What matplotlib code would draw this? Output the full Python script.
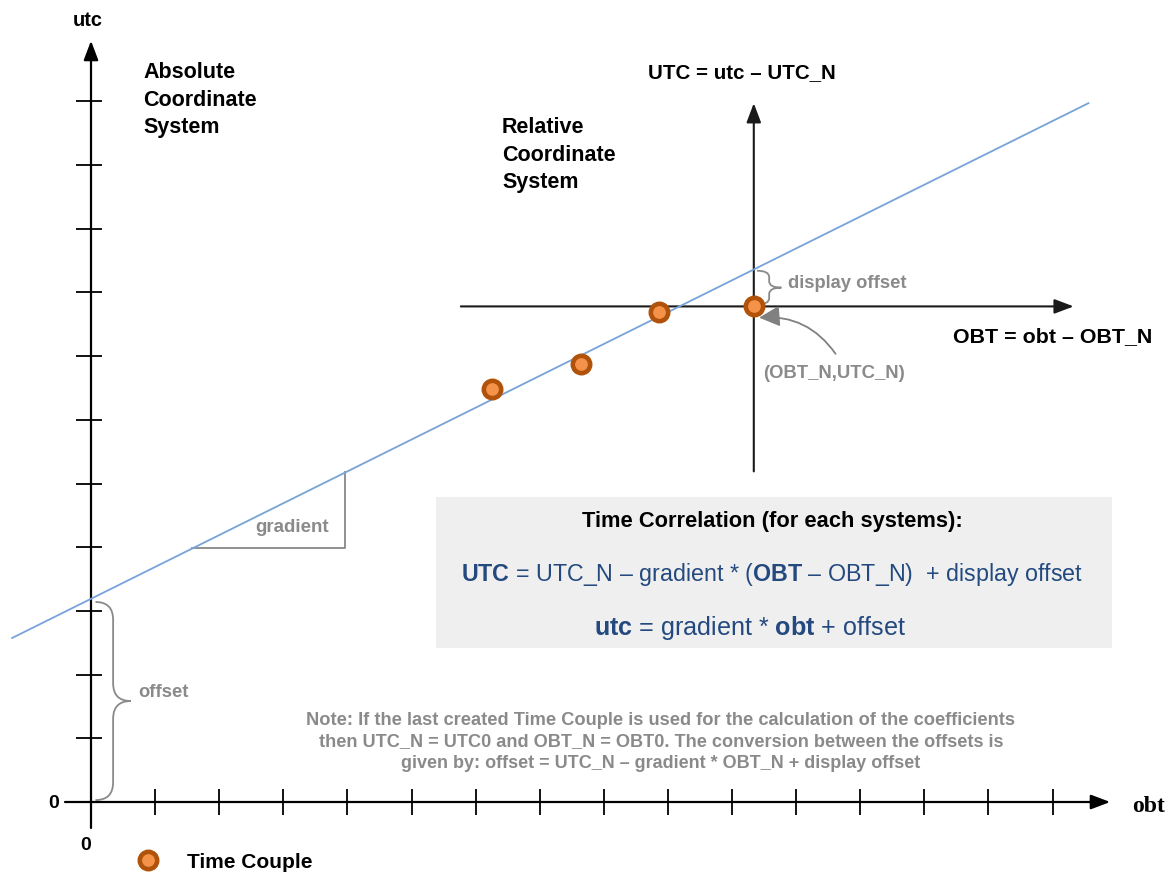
import matplotlib
matplotlib.use('Agg')
import matplotlib.pyplot as plt
import numpy as np
from matplotlib import transforms, font_manager
from matplotlib.patches import Rectangle, PathPatch, FancyArrowPatch
from matplotlib.path import Path

# ---------------- data ----------------
obt_ticks = np.arange(1, 16)          # tick marks on obt axis
utc_ticks = np.arange(1, 12)          # tick marks on utc axis
gradient = 0.5
offset = 3.19
line_obt = [-1.23, 15.56]             # extent of correlation line
couple_obt = [6.25, 7.64, 8.86, 10.34]
couple_utc = [6.48, 6.875, 7.69, 7.78]
obt_n, utc_n = couple_obt[-1], couple_utc[-1]
grad_obt = [1.58, 3.97]               # gradient triangle

def corr(o):
    return offset + gradient * np.asarray(o, dtype=float)

names = {f.name for f in font_manager.fontManager.ttflist}
SANS = 'Liberation Sans'
NARROW = 'Liberation Sans Narrow' if 'Liberation Sans Narrow' in names else 'Liberation Sans'
SERIF = 'Liberation Serif'

plt.rcParams['mathtext.fontset'] = 'custom'
plt.rcParams['mathtext.rm'] = NARROW
plt.rcParams['mathtext.bf'] = SANS + ':bold'

W, H = 1171, 874
fig = plt.figure(figsize=(W / 100, H / 100), dpi=100)
ax = fig.add_axes([0, 0, 1, 1])
XS, YS = 64.1, 63.7
OX, OY = 91, 802
ax.set_xlim(-OX / XS, (W - OX) / XS)
ax.set_ylim(-(H - OY) / YS, OY / YS)
ax.axis('off')
PX = transforms.Affine2D().scale(1 / W, -1 / H).translate(0, 1) + fig.transFigure

GRAY = '#8a8a8a'
BLUE_TXT = '#23497f'

def arrow(p0, p1, color='black', lw=1.6):
    ax.annotate('', xy=p1, xytext=p0,
                arrowprops=dict(arrowstyle='-|>,head_length=0.9,head_width=0.34',
                                lw=lw, color=color, shrinkA=0, shrinkB=0,
                                mutation_scale=13))

# absolute axes
arrow((-26 / XS, 0), (15.9, 0))
arrow((0, -26 / YS), (0, 11.95))
ax.vlines(obt_ticks, -13 / YS, 13 / YS, color='black', lw=1.3)
ax.hlines(utc_ticks, -15 / XS, 11 / XS, color='black', lw=1.3)

# relative axes
arrow((5.77, utc_n), (15.33, utc_n), color='#1a1a1a', lw=1.5)
arrow((obt_n, 5.19), (obt_n, 10.97), color='#1a1a1a', lw=1.5)

# correlation line
ax.plot(line_obt, corr(line_obt), color='#78a3d9', lw=1.3, zorder=3)

# gradient triangle
ax.plot([grad_obt[0], grad_obt[1], grad_obt[1]],
        [corr(grad_obt[0]), corr(grad_obt[0]), corr(grad_obt[1])],
        color='#888888', lw=1.3, zorder=2)

# braces
def brace(x0, y0, y1, w, r, color=GRAY, lw=1.3):
    ym = (y0 + y1) / 2
    xm = x0 + w / 2
    verts = [(x0, y0), (xm, y0), (xm, y0 + r), (xm, ym - r), (xm, ym), (x0 + w, ym),
             (xm, ym), (xm, ym + r), (xm, y1 - r), (xm, y1), (x0, y1)]
    codes = [Path.MOVETO, Path.CURVE3, Path.CURVE3, Path.LINETO, Path.CURVE3, Path.CURVE3,
             Path.CURVE3, Path.CURVE3, Path.LINETO, Path.CURVE3, Path.CURVE3]
    ax.add_patch(PathPatch(Path(verts, codes), fill=False, ec=color, lw=lw, zorder=2))

brace(0.07, 0.03, offset - 0.05, 0.55, 0.28)
brace(obt_n + 0.05, utc_n + 0.03, corr(obt_n) - 0.02, 0.38, 0.1)

# curved arrow to (OBT_N, UTC_N)
ax.add_patch(FancyArrowPatch((obt_n + 1.30, utc_n - 0.78), (obt_n + 0.04, utc_n - 0.18),
                             connectionstyle='arc3,rad=0.3',
                             arrowstyle='-|>,head_length=0.9,head_width=0.45',
                             mutation_scale=14, color='#808080', lw=1.3, zorder=4))

# time couples
ax.plot(couple_obt, couple_utc, 'o', ms=12.5, mfc='#f5924a', mec='#b0520a', mew=3.3,
        zorder=5, label='Time Couple')

# legend
leg = ax.legend(loc='center left', bbox_to_anchor=(135 / W, 1 - 862 / H), frameon=False,
                numpoints=1, handlelength=1.2, handletextpad=1.3, borderpad=0,
                borderaxespad=0, prop=dict(family=SANS, weight='bold', size=15))

# box
ax.add_patch(Rectangle((436, 497), 676, 151, transform=PX, fc='#efefef', ec='none', zorder=0))

fig.canvas.draw()
R = fig.canvas.get_renderer()

def T(x, y, s, width=None, ha='left', va='baseline', **kw):
    t = ax.text(x, y, s, transform=PX, ha=ha, va=va, **kw)
    if width is not None:
        bb = t.get_window_extent(R)
        t.set_fontsize(t.get_fontsize() * width / bb.width)
    return t

bold = dict(family=SANS, weight='bold')
T(88, 26, 'utc', width=30, ha='center', size=13, **bold)
T(143, 62, 'Absolute\nCoordinate\nSystem', va='top', size=15.5, linespacing=1.42, **bold)
T(502, 117, 'Relative\nCoordinate\nSystem', va='top', size=15.5, linespacing=1.42, **bold)
T(648, 78, 'UTC = utc – UTC_N', width=188, size=15, **bold)
T(953, 342, 'OBT = obt – OBT_N', width=200, size=15, **bold)
T(59, 808, '0', ha='right', size=14, **bold)
T(86, 850, '0', ha='center', size=14, **bold)
T(1132, 812, 'obt', width=33, size=14, family=SERIF, weight='bold')

gbold = dict(family=SANS, weight='bold', color=GRAY)
T(788, 288, 'display offset', width=119, size=11, **gbold)
T(763, 378, '(OBT_N,UTC_N)', width=142, size=11, **gbold)
T(255, 532, 'gradient', width=74, size=11, **gbold)
T(138, 697, 'offset', width=50, size=11, **gbold)

T(772, 527, 'Time Correlation (for each systems):', width=382, ha='center', size=14,
  family=NARROW, weight='bold', color='black')
f1 = T(772, 581, r'$\mathbf{UTC}$ = UTC_N – gradient * ($\mathbf{OBT}$ – OBT_N)  + display offset',
       width=625, ha='center', size=15, family=NARROW, color=BLUE_TXT)
T(750, 635, r'$\mathbf{utc}$ = gradient * $\mathbf{obt}$ + offset', ha='center',
  size=f1.get_fontsize() * 1.08, family=NARROW, color=BLUE_TXT)

note = ['Note: If the last created Time Couple is used for the calculation of the coefficients',
        'then UTC_N = UTC0 and OBT_N = OBT0. The conversion between the offsets is',
        'given by: offset = UTC_N – gradient * OBT_N + display offset']
note_w = [709, 685, 521]
for i, (s, w) in enumerate(zip(note, note_w)):
    T(661, 725 + i * 21.5, s, width=w, ha='center', size=11, family=NARROW,
      weight='bold', color=GRAY)

fig.savefig('out.png', dpi=100)
